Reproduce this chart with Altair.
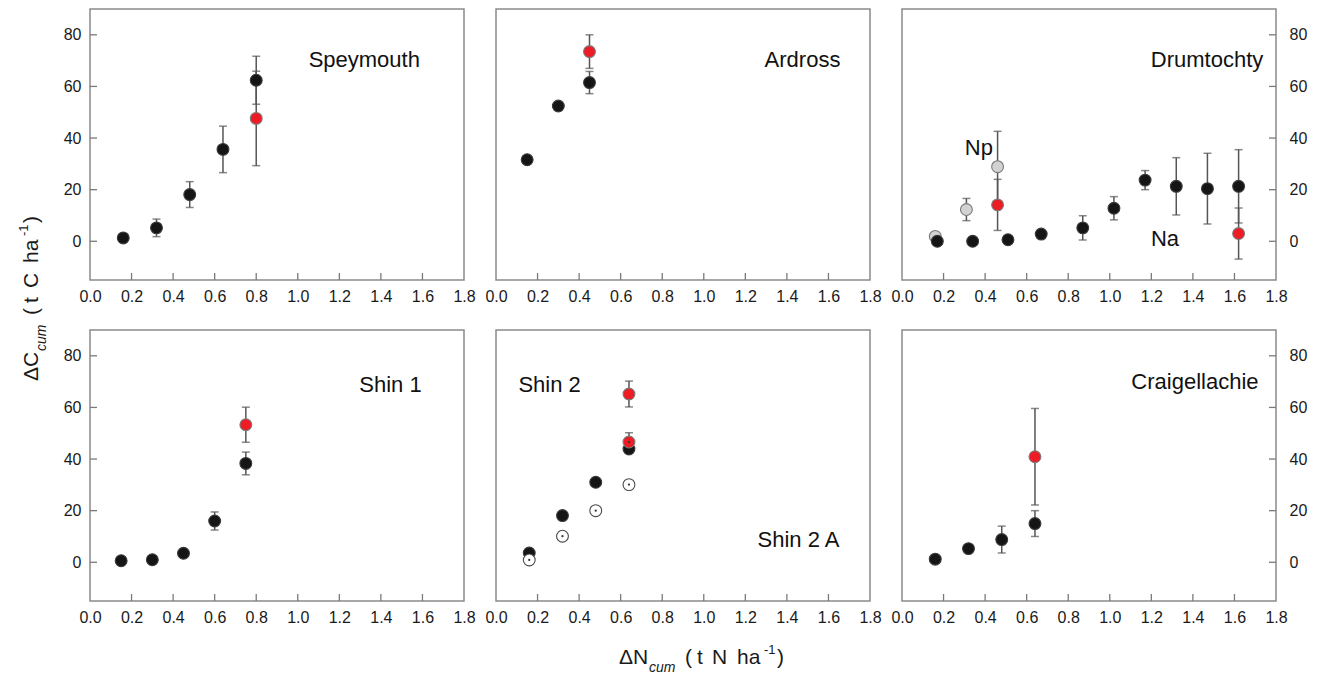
import altair as alt
import pandas as pd

FONT = "Liberation Sans"

X_TICKS = [0.0, 0.2, 0.4, 0.6, 0.8, 1.0, 1.2, 1.4, 1.6, 1.8]
Y_TICKS = [0, 20, 40, 60, 80]

# Speymouth
SPEY_X = [0.16, 0.32, 0.48, 0.64, 0.80]
SPEY_Y = [1.3, 5.2, 18.1, 35.6, 62.4]
SPEY_ERR = [1.5, 3.4, 5.0, 9.0, 9.3]
SPEY_RED_X = [0.80]
SPEY_RED_Y = [47.6]
SPEY_RED_ERR = [18.3]

# Ardross
ARD_X = [0.15, 0.30, 0.45]
ARD_Y = [31.6, 52.4, 61.5]
ARD_ERR = [0, 0, 4.3]
ARD_RED_X = [0.45]
ARD_RED_Y = [73.5]
ARD_RED_ERR = [6.5]

# Drumtochty
DRUM_X = [0.17, 0.34, 0.51, 0.67, 0.87, 1.02, 1.17, 1.32, 1.47, 1.62]
DRUM_Y = [0.0, 0.0, 0.6, 2.8, 5.2, 12.8, 23.7, 21.3, 20.4, 21.3]
DRUM_ERR = [0, 0, 0, 0, 4.7, 4.5, 3.7, 11.1, 13.7, 14.2]
DRUM_NP_X = [0.16, 0.31, 0.46]
DRUM_NP_Y = [1.9, 12.3, 28.9]
DRUM_NP_ERR = [0, 4.3, 13.7]
DRUM_RED_X = [0.46, 1.62]
DRUM_RED_Y = [14.1, 3.0]
DRUM_RED_ERR = [9.9, 9.9]

# Shin 1
SHIN1_X = [0.15, 0.30, 0.45, 0.60, 0.75]
SHIN1_Y = [0.6, 1.0, 3.5, 16.0, 38.3]
SHIN1_ERR = [0, 0, 0, 3.5, 4.4]
SHIN1_RED_X = [0.75]
SHIN1_RED_Y = [53.3]
SHIN1_RED_ERR = [6.8]

# Shin 2 / Shin 2 A
SHIN2_X = [0.16, 0.32, 0.48, 0.64]
SHIN2_Y = [3.6, 18.1, 31.0, 43.9]
SHIN2A_X = [0.16, 0.32, 0.48, 0.64]
SHIN2A_Y = [0.9, 10.1, 20.0, 30.1]
SHIN2_RED_X = [0.64]
SHIN2_RED_Y = [65.2]
SHIN2_RED_ERR = [5.0]
SHIN2A_RED_X = [0.64]
SHIN2A_RED_Y = [46.6]
SHIN2A_RED_ERR = [3.6]

# Craigellachie
CRAIG_X = [0.16, 0.32, 0.48, 0.64]
CRAIG_Y = [1.2, 5.3, 8.8, 15.0]
CRAIG_ERR = [0, 0, 5.2, 5.0]
CRAIG_RED_X = [0.64]
CRAIG_RED_Y = [40.9]
CRAIG_RED_ERR = [18.7]

W, H = 374, 271

STYLE = {
    "black": dict(fill="#151515", stroke="#3a3a3a"),
    "gray": dict(fill="#d2d2d2", stroke="#7a7a7a"),
    "red": dict(fill="#ee1c24", stroke="#7a7a7a"),
    "redopen": dict(fill="#ee1c24", stroke="#7a7a7a"),
    "open": dict(fill="#ffffff", stroke="#4a4a4a"),
}
ORDER = ["gray", "black", "open", "red", "redopen"]


def make_df(series):
    rows = []
    for kind, xs, ys, errs in series:
        if errs is None:
            errs = [0] * len(xs)
        for x, y, e in zip(xs, ys, errs):
            rows.append({"x": x, "y": y, "err": e, "kind": kind})
    return pd.DataFrame(rows)


xscale = alt.Scale(domain=[0, 1.8], nice=False, zero=False)
yscale = alt.Scale(domain=[-15, 90], nice=False, zero=False)
xaxis = alt.Axis(values=X_TICKS, format=".1f", ticks=False, domain=False, grid=False,
                 labelPadding=8, labelFlush=False, labelOverlap=False, title=None,
                 labelFont=FONT, labelFontSize=16, labelColor="#1a1a1a")


def yaxis_for(side):
    if side == "left":
        return alt.Axis(values=Y_TICKS, ticks=False, domain=False, grid=False, orient="left",
                        labelPadding=9, labelOverlap=False, title=None,
                        labelFont=FONT, labelFontSize=16, labelColor="#1a1a1a")
    if side == "right":
        return alt.Axis(values=Y_TICKS, ticks=False, domain=False, grid=False, orient="right",
                        labelPadding=13, labelOverlap=False, title=None,
                        labelFont=FONT, labelFontSize=16, labelColor="#1a1a1a")
    return None


def panel(df, labels, side, extra=None):
    yax = yaxis_for(side)
    X = lambda f: alt.X(f, scale=xscale, axis=xaxis)
    Y = lambda f: alt.Y(f, scale=yscale, axis=yax)
    layers = []
    err = alt.Chart(df).transform_filter("datum.err > 0").transform_calculate(
        lo="datum.y - datum.err", hi="datum.y + datum.err")
    layers.append(err.mark_rule(color="#555555", strokeWidth=1.5).encode(
        x=X("x:Q"), y=Y("lo:Q"), y2="hi:Q"))
    layers.append(err.mark_tick(orient="horizontal", size=8, thickness=1.5, color="#555555").encode(
        x=X("x:Q"), y=Y("lo:Q")))
    layers.append(err.mark_tick(orient="horizontal", size=8, thickness=1.5, color="#555555").encode(
        x=X("x:Q"), y=Y("hi:Q")))
    for kind in ORDER:
        if kind not in set(df["kind"]):
            continue
        st = STYLE[kind]
        layers.append(alt.Chart(df).transform_filter(f"datum.kind == '{kind}'").mark_point(
            shape="circle", filled=True, size=140, fill=st["fill"], stroke=st["stroke"],
            strokeWidth=1.1, opacity=1).encode(x=X("x:Q"), y=Y("y:Q")))
        if kind in ("open", "redopen"):
            layers.append(alt.Chart(df).transform_filter(f"datum.kind == '{kind}'").mark_point(
                shape="circle", filled=True, size=5, color="#333333", opacity=1).encode(
                x=X("x:Q"), y=Y("y:Q")))
    # inward tick marks
    layers.append(alt.Chart(pd.DataFrame({"tv": X_TICKS[1:-1]})).mark_rule(
        color="#7a7a7a", strokeWidth=1.3).encode(x=X("tv:Q"), y=alt.value(H), y2=alt.value(H - 7)))
    if side == "left":
        layers.append(alt.Chart(pd.DataFrame({"tv": Y_TICKS})).mark_rule(
            color="#7a7a7a", strokeWidth=1.3).encode(y=Y("tv:Q"), x=alt.value(0), x2=alt.value(7)))
    elif side == "right":
        layers.append(alt.Chart(pd.DataFrame({"tv": Y_TICKS})).mark_rule(
            color="#7a7a7a", strokeWidth=1.3).encode(y=Y("tv:Q"), x=alt.value(W - 7), x2=alt.value(W)))
    lab = pd.DataFrame(labels, columns=["t", "lx", "ly"])
    layers.append(alt.Chart(lab).mark_text(font=FONT, fontSize=22, color="#111111").encode(
        x=X("lx:Q"), y=Y("ly:Q"), text="t:N"))
    if extra:
        layers.extend(extra)
    return alt.layer(*layers).properties(width=W, height=H)


def piece(text, px, py, size, angle=0, italic=False):
    one = pd.DataFrame({"k": [0]})
    kw = dict(text=text, font=FONT, fontSize=size, color="#1a1a1a", align="left",
              baseline="alphabetic")
    if angle:
        kw["angle"] = angle
    if italic:
        kw["fontStyle"] = "italic"
    return alt.Chart(one).mark_text(**kw).encode(x=alt.value(px), y=alt.value(py))


# title pieces: (text, offset along the title, size, baseline shift, italic)
T_PARTS_Y = [("ΔC", 0, 21, 0, False), ("cum", 30, 14, 8, True), ("(", 66, 21, 0, False),
             ("t", 78, 21, 0, False), ("C", 93, 21, 0, False), ("ha", 118, 21, 0, False),
             ("-1", 145, 13, -10, False), (")", 158, 21, 0, False)]
T_PARTS_X = [("ΔN", 0, 21, 0, False), ("cum", 30, 14, 8, True), ("(", 66, 21, 0, False),
             ("t", 78, 21, 0, False), ("N", 93, 21, 0, False), ("ha", 118, 21, 0, False),
             ("-1", 145, 13, -10, False), (")", 158, 21, 0, False)]

# y title: rotated, starts at panel-1 relative (x=-52, y=372) and runs upward
ytitle = [piece(t, -52 + sh, 372 - off, s, angle=270, italic=it) for t, off, s, sh, it in T_PARTS_Y]
# x title: horizontal under the middle bottom panel
xtitle = [piece(t, 123 + off, 334 + sh, s, italic=it) for t, off, s, sh, it in T_PARTS_X]

p1 = panel(make_df([("black", SPEY_X, SPEY_Y, SPEY_ERR), ("red", SPEY_RED_X, SPEY_RED_Y, SPEY_RED_ERR)]),
           [("Speymouth", 1.32, 70.2)], "left", ytitle)
p2 = panel(make_df([("black", ARD_X, ARD_Y, ARD_ERR), ("red", ARD_RED_X, ARD_RED_Y, ARD_RED_ERR)]),
           [("Ardross", 1.475, 70.2)], "none")
p3 = panel(make_df([("black", DRUM_X, DRUM_Y, DRUM_ERR), ("gray", DRUM_NP_X, DRUM_NP_Y, DRUM_NP_ERR),
                    ("red", DRUM_RED_X, DRUM_RED_Y, DRUM_RED_ERR)]),
           [("Drumtochty", 1.468, 70.2), ("Np", 0.37, 36.1), ("Na", 1.266, 0.9)], "right")
p4 = panel(make_df([("black", SHIN1_X, SHIN1_Y, SHIN1_ERR), ("red", SHIN1_RED_X, SHIN1_RED_Y, SHIN1_RED_ERR)]),
           [("Shin 1", 1.446, 68.7)], "left")
p5 = panel(make_df([("black", SHIN2_X, SHIN2_Y, None), ("open", SHIN2A_X, SHIN2A_Y, None),
                    ("red", SHIN2_RED_X, SHIN2_RED_Y, SHIN2_RED_ERR),
                    ("redopen", SHIN2A_RED_X, SHIN2A_RED_Y, SHIN2A_RED_ERR)]),
           [("Shin 2", 0.258, 68.7), ("Shin 2 A", 1.456, 8.6)], "none", xtitle)
p6 = panel(make_df([("black", CRAIG_X, CRAIG_Y, CRAIG_ERR), ("red", CRAIG_RED_X, CRAIG_RED_Y, CRAIG_RED_ERR)]),
           [("Craigellachie", 1.41, 69.9)], "right")

chart = alt.concat(p1, p2, p3, p4, p5, p6, columns=3,
                   spacing={"row": 50, "column": 32}, bounds="flush").properties(
    padding={"left": 17, "top": 8, "right": 5, "bottom": 5}, background="white"
).configure_view(stroke="#8a8a8a", strokeWidth=1.5)

chart.save("out.html", embed_options={"renderer": "svg", "actions": False})
